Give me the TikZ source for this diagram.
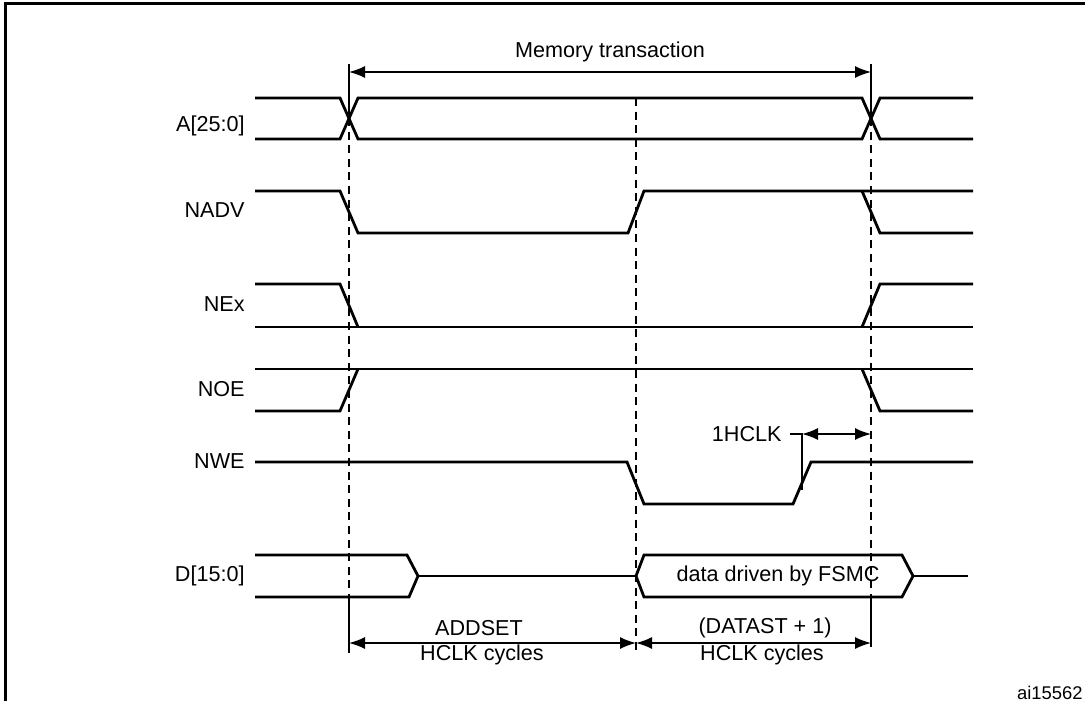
\documentclass[tikz,border=0pt]{standalone}
\usepackage{fontspec}
\setmainfont{Liberation Sans}
\usetikzlibrary{arrows.meta,positioning,calc}
\tikzstyle{wave}=[line width=1.4pt,line join=miter]
\tikzstyle{guide}=[line width=0.75pt,dash pattern=on 4pt off 2.8pt]
\tikzstyle{thin}=[line width=0.75pt]
\tikzstyle{dim}=[line width=0.75pt,{Latex[length=8pt,width=6pt]}-{Latex[length=8pt,width=6pt]}]
\tikzstyle{signame}=[anchor=east,inner sep=0pt]

\begin{document}
\begin{tikzpicture}[x=0.5pt,y=-0.5pt,font=\fontsize{10.8}{12}\selectfont]
\useasboundingbox (0,0) rectangle (1085,701);
\draw[line width=1.5pt] (5,701) -- (5,4) -- (1085,4);

% signal names
\node[signame] (a) at (245,126) {A[25:0]};
\node[signame] (nadv) at (245,210) {NADV};
\node[signame] (nex) at (245,304) {NEx};
\node[signame] (noe) at (245,389) {NOE};
\node[signame] (nwe) at (245,461) {NWE};
\node[signame] (d) at (245,576) {D[15:0]};

% A[25:0]
\draw[wave] (255,98) -- (340,98) -- (358,139) -- (862,139) -- (880,98) -- (973,98);
\draw[wave] (255,139) -- (340,139) -- (358,98) -- (862,98) -- (880,139) -- (973,139);
% NADV
\draw[wave] (255,191) -- (340,191) -- (358,233) -- (628,233) -- (644,191) -- (973,191);
\draw[wave] (862,191) -- (880,233) -- (973,233);
% NEx
\draw[wave] (255,284) -- (340,284) -- (358,327);
\draw[wave] (255,327) -- (973,327);
\draw[wave] (862,327) -- (880,284) -- (973,284);
% NOE
\draw[wave] (255,369) -- (973,369);
\draw[wave] (255,411) -- (340,411) -- (358,369);
\draw[wave] (862,369) -- (880,411) -- (973,411);
% NWE
\draw[wave] (255,462) -- (627,462) -- (644,504) -- (793,504) -- (811,462) -- (973,462);
% D[15:0]
\draw[wave] (255,555) -- (407,555) -- (418,576) -- (409,597) -- (255,597);
\draw[wave] (418,576) -- (636,576);
\draw[wave] (636,576) -- (644,555) -- (902,555) -- (913,576) -- (902,597) -- (644,597) -- cycle;
\draw[wave] (913,576) -- (968,576);
\node (data) at (778,576) {data driven by FSMC};

% edges
\coordinate (e1) at (349,64);
\coordinate (e2) at (636,98);
\coordinate (e3) at (871,64);
\draw[thin] (e1) -- (349,118);
\draw[guide] (349,118) -- (349,597);
\draw[thin] (349,597) -- (349,653);
\draw[guide] (e2) -- (636,650);
\draw[thin] (e3) -- (871,118);
\draw[guide] (871,118) -- (871,597);
\draw[thin] (871,597) -- (871,647);

% memory transaction
\coordinate (mt1) at (349,72);
\coordinate (mt2) at (871,72);
\draw[dim] (mt1) -- (mt2);
\node (mt) at (610,52) {Memory transaction};

% 1HCLK
\node[anchor=east,inner sep=0pt] (hclk) at (782,434) {1HCLK};
\coordinate (hk) at (802,434);
\coordinate (hr) at (871,434);
\draw[thin] ([xshift=4pt]hclk.east) -- (hk) -- (802,490);
\draw[dim] (hk) -- (hr);

% bottom dimensions
\coordinate (b1) at (349,643);
\coordinate (b2) at (636,643);
\coordinate (b3) at (871,643);
\draw[dim] (b1) -- (b2);
\draw[dim] (b2) -- (b3);
\node (addset) at (479,628) {ADDSET};
\node (cyc1) at (482,655) {HCLK cycles};
\node (datast) at (765,628) {(DATAST + 1)};
\node (cyc2) at (762,655) {HCLK cycles};

\node[anchor=east,inner sep=0pt,font=\fontsize{9.2}{10}\selectfont] (ref) at (1083,693) {ai15562};
\end{tikzpicture}
\end{document}
